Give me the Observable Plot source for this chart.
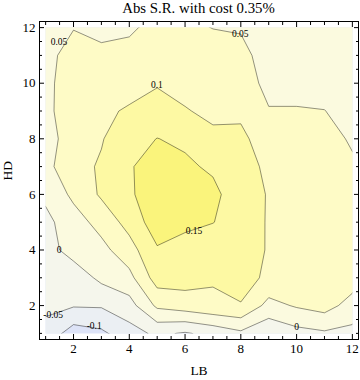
<!DOCTYPE html>
<html><head><meta charset="utf-8">
<script src="https://cdn.jsdelivr.net/npm/d3@7"></script>
<script src="https://cdn.jsdelivr.net/npm/@observablehq/plot@0.6"></script>
<style>
body{margin:0;background:#fff;}
#title{height:17px;line-height:17px;font-family:"Liberation Serif","Times New Roman",serif;font-size:14.8px;margin-left:39px;width:319px;text-align:center;white-space:nowrap;color:#000;}
</style></head><body>
<div id="title">Abs S.R. with cost 0.35%</div>
<div id="chart"></div>
<script>
// grid axes
const LB = [1,2,3,4,5,6,7,8,9,10,11,12];
const HD = [1,2,3,4,5,6,7,8,9,10,11,12];
// Abs S.R. values, one row per HD (1..12), columns LB 1..12
const hd1  = [-0.065,-0.125,-0.110,-0.070,-0.040,-0.055,-0.035,-0.010,-0.040,-0.017,-0.007,-0.014];
const hd2  = [-0.040,-0.046,-0.045,-0.020, 0.060, 0.076, 0.090, 0.097, 0.034, 0.055, 0.070, 0.030];
const hd3  = [-0.035,-0.030, 0.012, 0.035, 0.123, 0.120, 0.105, 0.120, 0.090, 0.085, 0.080, 0.075];
const hd4  = [-0.020, 0.020, 0.035, 0.080, 0.145, 0.125, 0.125, 0.125, 0.096, 0.090, 0.085, 0.080];
const hd5  = [-0.013, 0.028, 0.068, 0.118, 0.177, 0.165, 0.151, 0.132, 0.095, 0.090, 0.085, 0.080];
const hd6  = [ 0.010, 0.061, 0.107, 0.145, 0.170, 0.175, 0.165, 0.115, 0.098, 0.090, 0.085, 0.075];
const hd7  = [ 0.035, 0.085, 0.105, 0.145, 0.175, 0.160, 0.141, 0.110, 0.095, 0.085, 0.075, 0.056];
const hd8  = [ 0.035, 0.068, 0.097, 0.130, 0.151, 0.140, 0.110, 0.114, 0.067, 0.060, 0.065, 0.045];
const hd9  = [ 0.035, 0.085, 0.095, 0.103, 0.115, 0.103, 0.090, 0.088, 0.052, 0.052, 0.051, 0.030];
const hd10 = [ 0.035, 0.082, 0.085, 0.090, 0.097, 0.085, 0.080, 0.068, 0.040, 0.040, 0.030, 0.030];
const hd11 = [ 0.035, 0.070, 0.0585,0.060, 0.075, 0.075, 0.070, 0.060, 0.035, 0.035, 0.035, 0.030];
const hd12 = [ 0.030, 0.048, 0.040, 0.045, 0.060, 0.060, 0.049, 0.047, 0.035, 0.030, 0.028, 0.025];
// contour levels and band colours (lowest band first)
const levels = [-0.1, -0.05, 0, 0.05, 0.1, 0.15];
const bandColors = ["#dde3f7", "#ebeff3", "#f5f6ec", "#fbfadf", "#fefbc6", "#fdf9a3", "#faf47c"];
// contour labels
const labelText = ["0.05", "0.05", "0.1", "0.15", "0", "-0.05", "-0.1", "0"];
const labelLB   = [1.48, 7.98, 4.99, 6.32, 1.48, 1.27, 2.74, 10.0];
const labelHD   = [11.5, 11.76, 9.94, 4.69, 4.0, 1.68, 1.27, 1.24];
// axis titles
const xTitle = ["LB"];
const yTitle = ["HD"];
// ticks
const majorTicks = [2, 4, 6, 8, 10, 12];
const minorTicks = [1, 1.5, 2.5, 3, 3.5, 4.5, 5, 5.5, 6.5, 7, 7.5, 8.5, 9, 9.5, 10.5, 11, 11.5];

const rows = [hd1, hd2, hd3, hd4, hd5, hd6, hd7, hd8, hd9, hd10, hd11, hd12];
const values = rows.flat();
const nx = LB.length, ny = HD.length;
const half = (LB[1] - LB[0]) / 2;
const grid = {
  width: nx, height: ny,
  x1: LB[0] - half, x2: LB[nx - 1] + half,
  y1: HD[0] - half, y2: HD[ny - 1] + half,
  value: (d) => d
};
const labels = labelText.map((t, i) => ({t, x: labelLB[i], y: labelHD[i]}));
const noText = () => "";

const chart = Plot.plot({
  width: 360, height: 363,
  marginLeft: 39, marginRight: 2, marginTop: 4, marginBottom: 41,
  x: {domain: [0.78, 12.22]},
  y: {domain: [0.78, 12.22]},
  color: {type: "threshold", domain: levels, range: bandColors},
  style: {fontFamily: '"Liberation Serif", "Times New Roman", serif', fontSize: "13px", background: "white", color: "black"},
  marks: [
    Plot.contour(values, {...grid, thresholds: [-1, ...levels], fill: "value", stroke: "none"}),
    Plot.contour(values, {...grid, thresholds: levels, fill: "none", stroke: "black", strokeOpacity: 0.42, strokeWidth: 1}),
    Plot.text(labels, {x: "x", y: "y", text: "t", fontSize: 9.5, fill: "black"}),
    Plot.frame({stroke: "black"}),
    Plot.axisX({anchor: "bottom", ticks: majorTicks, tickSize: 0, tickPadding: 4, label: null, fill: "black"}),
    Plot.axisX({anchor: "bottom", ticks: majorTicks, tickSize: 5, dy: -5, tickFormat: noText, label: null}),
    Plot.axisX({anchor: "bottom", ticks: minorTicks, tickSize: 3, dy: -3, tickFormat: noText, label: null}),
    Plot.axisX({anchor: "top", ticks: majorTicks, tickSize: 5, dy: 5, tickFormat: noText, label: null}),
    Plot.axisX({anchor: "top", ticks: minorTicks, tickSize: 3, dy: 3, tickFormat: noText, label: null}),
    Plot.axisY({anchor: "left", ticks: majorTicks, tickSize: 0, tickPadding: 4, label: null, fill: "black"}),
    Plot.axisY({anchor: "left", ticks: majorTicks, tickSize: 5, dx: 5, tickFormat: noText, label: null}),
    Plot.axisY({anchor: "left", ticks: minorTicks, tickSize: 3, dx: 3, tickFormat: noText, label: null}),
    Plot.axisY({anchor: "right", ticks: majorTicks, tickSize: 5, dx: -5, tickFormat: noText, label: null}),
    Plot.axisY({anchor: "right", ticks: minorTicks, tickSize: 3, dx: -3, tickFormat: noText, label: null}),
    Plot.text(xTitle, {frameAnchor: "bottom", text: (d) => d, dy: 31, lineAnchor: "middle", fontSize: 13.5, fill: "black"}),
    Plot.text(yTitle, {frameAnchor: "left", text: (d) => d, dx: -31.5, rotate: -90, lineAnchor: "middle", fontSize: 13.5, fill: "black"})
  ]
});

// clip the contour fill to the sampled LB x HD rectangle, using the plot's own scales
const sx = chart.scale("x"), sy = chart.scale("y");
const ns = "http://www.w3.org/2000/svg";
const defs = document.createElementNS(ns, "defs");
const cp = document.createElementNS(ns, "clipPath");
cp.setAttribute("id", "dataClip");
const r = document.createElementNS(ns, "rect");
const px0 = sx.apply(LB[0]), px1 = sx.apply(LB[nx - 1]);
const py0 = sy.apply(HD[ny - 1]), py1 = sy.apply(HD[0]);
r.setAttribute("x", px0); r.setAttribute("y", py0);
r.setAttribute("width", px1 - px0); r.setAttribute("height", py1 - py0);
cp.appendChild(r); defs.appendChild(cp);
chart.insertBefore(defs, chart.firstChild);
chart.querySelectorAll('g[aria-label="contour"]').forEach(g => g.setAttribute("clip-path", "url(#dataClip)"));
document.getElementById("chart").appendChild(chart);
</script>
</body></html>
